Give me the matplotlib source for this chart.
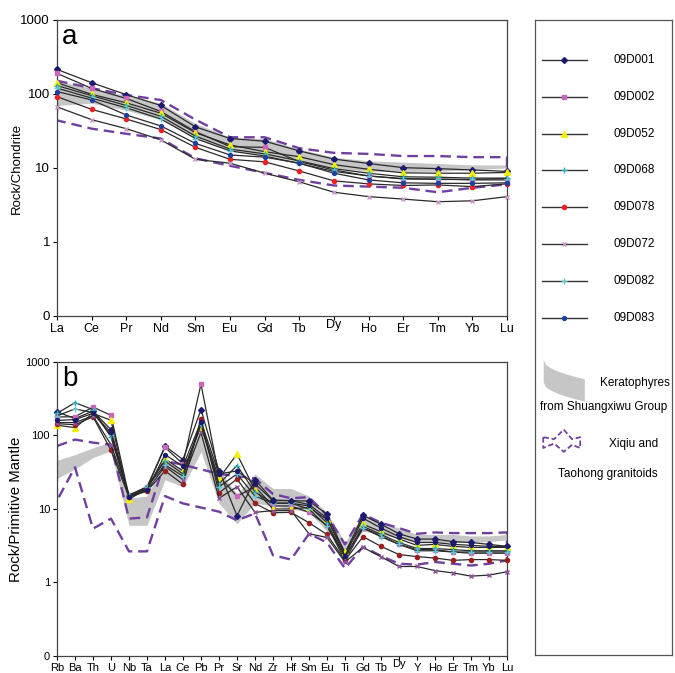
import matplotlib
matplotlib.use('Agg')
import matplotlib.pyplot as plt
import matplotlib.transforms as mtransforms
import numpy as np

plt.rcParams['font.family'] = ['Liberation Sans', 'DejaVu Sans']

# ---------------- data ----------------
ree = ['La', 'Ce', 'Pr', 'Nd', 'Sm', 'Eu', 'Gd', 'Tb', 'Dy', 'Ho', 'Er', 'Tm', 'Yb', 'Lu']
spider = ['Rb', 'Ba', 'Th', 'U', 'Nb', 'Ta', 'La', 'Ce', 'Pb', 'Pr', 'Sr', 'Nd', 'Zr',
          'Hf', 'Sm', 'Eu', 'Ti', 'Gd', 'Tb', 'Dy', 'Y', 'Ho', 'Er', 'Tm', 'Yb', 'Lu']

samples = ['09D001', '09D002', '09D052', '09D068', '09D078', '09D072', '09D082', '09D083']

# chondrite normalised REE
ree_09D001 = [215, 142, 98, 70, 36, 25, 23, 17, 13.2, 11.5, 10.1, 9.8, 9.4, 9.0]
ree_09D002 = [190, 119, 87, 58, 31, 19.4, 19, 12.2, 9.4, 7.8, 7.1, 7.1, 6.9, 6.9]
ree_09D052 = [142, 99, 76, 55, 30, 20.5, 16.6, 14.2, 11.1, 9.6, 8.6, 8.5, 8.5, 8.7]
ree_09D068 = [130, 95, 70, 50, 27, 18, 15.5, 12.5, 9.8, 8.5, 7.6, 7.5, 7.3, 7.3]
ree_09D078 = [92, 62, 46, 33, 19, 13.1, 12.1, 9.1, 6.7, 6.1, 5.8, 5.9, 5.6, 6.1]
ree_09D072 = [67, 45, 34, 24, 13.1, 11.6, 8.5, 6.5, 4.7, 4.1, 3.8, 3.5, 3.6, 4.1]
ree_09D082 = [120, 88, 65, 46, 25, 17, 14.5, 11.5, 9.0, 7.8, 7.2, 7.0, 7.0, 7.2]
ree_09D083 = [108, 83, 52, 37, 21.5, 15, 14, 11.6, 8.5, 6.9, 6.3, 6.2, 6.2, 6.3]

kera_ree_lo = [70, 75, 60, 45, 25, 17, 15, 12, 10, 9, 9, 9, 9.5, 10]
kera_ree_hi = [150, 120, 95, 75, 40, 26, 25, 18, 14, 12.5, 12, 11.5, 11, 11]
gran_ree_hi = [151, 120, 97, 83, 45, 26, 26, 18.5, 16, 15.5, 14.5, 14.5, 14, 14]
gran_ree_lo = [44, 34, 29, 25, 13.5, 10.7, 8.6, 6.9, 5.8, 5.6, 5.4, 4.7, 5.4, 6.0]

# primitive mantle normalised trace elements
pm_09D001 = [210, 170, 215, 120, 15, 19, 72, 47, 225, 33, 8.1, 25, 13.2, 13, 12.8, 8.5, 2.5, 8.2, 6.2, 4.6, 3.9, 3.9, 3.6, 3.5, 3.3, 3.1]
pm_09D002 = [179, 180, 244, 188, 15, 20, 69, 41, 500, 28, 14.9, 20, 11, 11, 9, 6, 2.0, 5.5, 4.3, 3.3, 2.8, 2.8, 2.6, 2.5, 2.5, 2.5]
pm_09D052 = [138, 128, 200, 161, 13.5, 19, 48, 33, 132, 26, 56, 18, 10, 10, 10.5, 7.2, 2.6, 6.2, 4.9, 3.9, 3.2, 3.3, 3.1, 3.0, 3.0, 3.0]
pm_09D068 = [200, 280, 225, 95, 15.5, 20, 45, 30, 150, 22, 39, 17, 12, 12, 11, 6.5, 2.2, 5.8, 4.5, 3.5, 2.9, 2.9, 2.8, 2.7, 2.7, 2.7]
pm_09D078 = [145, 140, 180, 63, 14.5, 17.5, 33, 21.7, 168, 16.6, 25.5, 11.9, 8.9, 9, 6.5, 4.5, 2.0, 4.2, 3.1, 2.4, 2.25, 2.15, 2.0, 2.05, 2.05, 2.0]
pm_09D072 = [150, 150, 185, 75, 15, 18, 38, 25, 110, 14, 20, 9, 9.5, 9.5, 4.6, 4.1, 1.9, 3.0, 2.24, 1.65, 1.65, 1.45, 1.35, 1.22, 1.26, 1.4]
pm_09D082 = [185, 230, 205, 100, 15, 20, 40, 28, 140, 20, 30, 15, 12, 12, 10, 5.8, 2.3, 5.5, 4.2, 3.3, 2.7, 2.7, 2.6, 2.6, 2.6, 2.6]
pm_09D083 = [160, 165, 200, 110, 14.5, 18, 55, 38, 155, 30, 33, 22, 13, 13, 11.5, 7.5, 2.3, 7.5, 5.5, 4.2, 3.5, 3.5, 3.3, 3.2, 3.1, 3.1]

kera_pm_lo = [26, 35, 50, 62, 6, 6, 25, 20, 60, 12, 6.3, 12, 11, 10, 9, 5, 2.5, 5, 4.5, 4, 3.5, 3.5, 3.5, 3.5, 3.6, 3.8]
kera_pm_hi = [46, 55, 68, 82, 14, 15, 45, 35, 125, 34, 16, 30, 19, 19, 15, 9, 3.5, 8.5, 6.5, 5.5, 4.5, 4.5, 4.5, 4.3, 4.3, 4.5]
# granitoid field has no Pb value
gran_pm_elems = ['Rb', 'Ba', 'Th', 'U', 'Nb', 'Ta', 'La', 'Ce', 'Pr', 'Sr', 'Nd', 'Zr', 'Hf',
                 'Sm', 'Eu', 'Ti', 'Gd', 'Tb', 'Dy', 'Y', 'Ho', 'Er', 'Tm', 'Yb', 'Lu']
gran_pm_hi = [72, 88, 80, 75, 7.4, 7.7, 45, 40, 30, 28, 26, 16, 14, 14.5, 8.2, 3.3, 8.5, 6.5, 5.5, 4.6, 4.8, 4.7, 4.7, 4.7, 4.8]
gran_pm_lo = [13, 37, 5.4, 7.4, 2.65, 2.65, 15, 11.9, 9.2, 7, 8.7, 2.35, 2.05, 4.6, 3.5, 1.55, 3.06, 2.3, 1.8, 1.75, 1.9, 1.8, 1.7, 1.8, 2.0]

ree_data = [ree_09D001, ree_09D002, ree_09D052, ree_09D068, ree_09D078, ree_09D072, ree_09D082, ree_09D083]
pm_data = [pm_09D001, pm_09D002, pm_09D052, pm_09D068, pm_09D078, pm_09D072, pm_09D082, pm_09D083]

# style per sample
markers = ['D', 's', '^', '+', 'o', 'x', '+', 'o']
mcolors_a = ['#1c1a6e', '#cc66bb', '#f5f000', '#2ab0c0', '#f02020', '#c896c8', '#60c8d0', '#2040a0']
mcolors_b = ['#1c1a6e', '#cc66bb', '#f5f000', '#2ab0c0', '#9a2020', '#9050a0', '#60c8d0', '#1c1a6e']
msizes = [3, 3.2, 4, 4, 3, 3.5, 4, 2.8]
line_col = '#2a2a2a'
gray = '#c6c6c6'
purple = '#7040a0'

fig = plt.figure(figsize=(6.75, 6.73), dpi=100)
ax_a = fig.add_axes([0.0844, 0.5305, 0.6667, 0.4398])
ax_b = fig.add_axes([0.0844, 0.0253, 0.6667, 0.4368])


def setup(ax, elems, ylabel, ylab_size, ytick_size, xtick_size, letter):
    x = np.arange(len(elems))
    ax.set_yscale('log')
    ax.set_ylim(0.1, 1000)
    ax.set_xlim(0, len(elems) - 1)
    ax.set_yticks([0.1, 1, 10, 100, 1000])
    ax.set_yticklabels(['0', '1', '10', '100', '1000'], fontsize=ytick_size)
    ax.minorticks_off()
    ax.set_xticks(x)
    ax.set_xticklabels(elems, fontsize=xtick_size)
    ax.tick_params(axis='both', direction='out', length=3, width=0.8, pad=2)
    ax.set_ylabel(ylabel, fontsize=ylab_size)
    ax.yaxis.set_label_coords(-0.076, 0.5)
    for s in ax.spines.values():
        s.set_linewidth(0.9)
        s.set_color('#444444')
    ax.text(0.012, 0.985, letter, transform=ax.transAxes, fontsize=20, va='top', ha='left')
    # Dy label sits a little higher in the original
    for lbl in ax.get_xticklabels():
        if lbl.get_text() == 'Dy':
            lbl.set_transform(lbl.get_transform() + mtransforms.ScaledTranslation(0, 3 / 72, fig.dpi_scale_trans))
    return x


# ---------- panel a ----------
xa = setup(ax_a, ree, 'Rock/Chondrite', 9.5, 9.5, 9, 'a')
ax_a.fill_between(xa, kera_ree_lo, kera_ree_hi, color=gray, lw=0, zorder=1)
gx = np.concatenate([xa, xa[::-1], xa[:1]])
gy = np.concatenate([gran_ree_hi, gran_ree_lo[::-1], gran_ree_hi[:1]])
ax_a.plot(gx, gy, color=purple, lw=1.7, dashes=(4.5, 2.5), zorder=2)
for vals, m, c, ms in zip(ree_data, markers, mcolors_a, msizes):
    ax_a.plot(xa, vals, color=line_col, lw=0.9, marker=m, ms=ms, mfc=c, mec=c, mew=1, zorder=3,
              clip_on=False)

# ---------- panel b ----------
xb = setup(ax_b, spider, 'Rock/Primitive Mantle', 10.8, 8, 8, 'b')
ax_b.fill_between(xb, kera_pm_lo, kera_pm_hi, color=gray, lw=0, zorder=1)
gxb = np.array([spider.index(e) for e in gran_pm_elems])
gx = np.concatenate([gxb, gxb[::-1], gxb[:1]])
gy = np.concatenate([gran_pm_hi, gran_pm_lo[::-1], gran_pm_hi[:1]])
ax_b.plot(gx, gy, color=purple, lw=1.7, dashes=(4.5, 2.5), zorder=2)
for vals, m, c, ms in zip(pm_data, markers, mcolors_b, msizes):
    ax_b.plot(xb, vals, color=line_col, lw=0.9, marker=m, ms=ms, mfc=c, mec=c, mew=1, zorder=3,
              clip_on=False)

# ---------- legend panel ----------
leg = fig.add_axes([0.7926, 0.0267, 0.203, 0.9436])
leg.set_xlim(0, 1)
leg.set_ylim(0, 1)
leg.set_xticks([])
leg.set_yticks([])
for s in leg.spines.values():
    s.set_linewidth(0.9)
    s.set_color('#555555')

row_y = np.linspace(0.937, 0.531, len(samples))
for name, yy, m, c, ms in zip(samples, row_y, markers, mcolors_a, msizes):
    leg.plot([0.05, 0.38], [yy, yy], color='#333333', lw=1)
    leg.plot([0.215], [yy], marker=m, ms=ms, mfc=c, mec=c, mew=1)
    leg.text(0.57, yy, name, fontsize=8.5, va='center', ha='left')

# keratophyre icon: curved grey band
t = np.linspace(0, 1, 20)
bx = 0.06 + 0.3 * t
leg.fill_between(bx, 0.445 - 0.03 * np.sqrt(t) - 0.015, 0.465 - 0.03 * np.sqrt(t),
                 color=gray, lw=0)
leg.text(0.985, 0.428, 'Keratophyres', fontsize=8.5, ha='right', va='center')
leg.text(0.5, 0.39, 'from Shuangxiwu Group', fontsize=8.5, ha='center', va='center')

# granitoid icon: dashed zig-zag outline
zx = [0.06, 0.06, 0.14, 0.21, 0.27, 0.33, 0.33, 0.27, 0.21, 0.14, 0.06]
zy = [0.343, 0.326, 0.333, 0.320, 0.331, 0.326, 0.343, 0.340, 0.355, 0.340, 0.343]
leg.plot(zx, zy, color=purple, lw=1.3, dashes=(3, 1.5))
leg.text(0.9, 0.332, 'Xiqiu and', fontsize=8.5, ha='right', va='center')
leg.text(0.53, 0.285, 'Taohong granitoids', fontsize=8.5, ha='center', va='center')

fig.savefig('out.png', dpi=100)
